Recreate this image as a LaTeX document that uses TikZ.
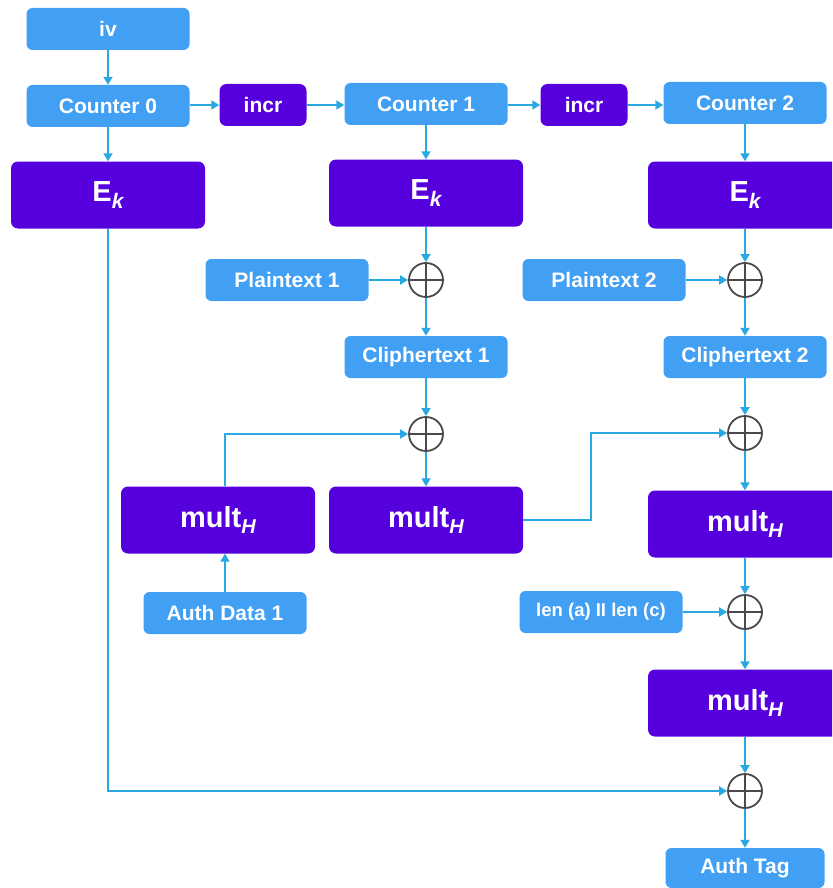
\documentclass[tikz,border=0pt]{standalone}
\usepackage{fontspec}
\setmainfont{Liberation Sans}
\usetikzlibrary{arrows.meta}
\definecolor{lightbox}{HTML}{42A0F4}
\definecolor{darkbox}{HTML}{5500DD}
\definecolor{wire}{HTML}{2AA8E2}
\definecolor{xorline}{HTML}{4A4A4A}
\tikzset{
  x=1pt, y=-1pt,
  lbox/.style={fill=lightbox, rounded corners=6pt, minimum width=163pt, minimum height=42pt,
    inner sep=0pt, text=white, font=\fontsize{21}{23}\selectfont\bfseries},
  pbox/.style={fill=darkbox, rounded corners=7pt, inner sep=0pt, text=white},
  incrbox/.style={pbox, minimum width=87pt, minimum height=42pt, font=\fontsize{21}{23}\selectfont\bfseries},
  bigbox/.style={pbox, minimum width=194pt, minimum height=67pt, font=\fontsize{29}{31}\selectfont\bfseries},
  xor/.style={circle, draw=xorline, line width=1.8pt, minimum size=34pt, inner sep=0pt,
    path picture={\draw[xorline, line width=1.8pt]
      (path picture bounding box.north) -- (path picture bounding box.south)
      (path picture bounding box.west) -- (path picture bounding box.east);}},
  arrow/.style={draw=wire, line width=1.8pt, -{Triangle[length=8pt,width=9pt]}},
}
\newcommand{\Ek}{E\raisebox{-0.22em}{\fontsize{21}{23}\selectfont\itshape k}}
\newcommand{\multH}{mult\raisebox{-0.22em}{\fontsize{20}{23}\selectfont\itshape H}}
\begin{document}
\begin{tikzpicture}
\useasboundingbox (0,0) rectangle (832,888);
\clip (0,0) rectangle (832,888);

% counters and increments
\node[lbox] (iv) at (108,29) {iv};
\node[lbox] (c0) at (108,106) {Counter 0};
\node[incrbox] (i1) at (263,105) {incr};
\node[lbox] (c1) at (426,104) {Counter 1};
\node[incrbox] (i2) at (584,105) {incr};
\node[lbox] (c2) at (745,103) {Counter 2};

% block cipher
\node[bigbox] (e0) at (108,195) {\Ek};
\node[bigbox] (e1) at (426,193) {\Ek};
\node[bigbox] (e2) at (745,195) {\Ek};

% encryption
\node[xor] (x1) at (426,280) {};
\node[xor] (x2) at (745,280) {};
\node[lbox] (p1) at (287,280) {Plaintext 1};
\node[lbox] (p2) at (604,280) {Plaintext 2};
\node[lbox] (k1) at (426,357) {Cliphertext 1};
\node[lbox] (k2) at (745,357) {Cliphertext 2};

% GHASH chain
\node[xor] (x3) at (426,434) {};
\node[xor] (x4) at (745,433) {};
\node[bigbox] (m1) at (218,520) {\multH};
\node[bigbox] (m2) at (426,520) {\multH};
\node[bigbox] (m3) at (745,524) {\multH};
\node[lbox] (ad) at (225,613) {Auth Data 1};
\node[lbox, font=\fontsize{18.5}{20}\selectfont\bfseries] (len) at (601,612) {len (a) II len (c)};
\node[xor] (x5) at (745,612) {};
\node[bigbox] (m4) at (745,703) {\multH};
\node[xor] (x6) at (745,791) {};
\node[lbox, minimum width=159pt, minimum height=40pt] (tag) at (745,868) {Auth Tag};

% connectors
\draw[arrow] (iv) -- (c0);
\draw[arrow] (c0.east |- i1) -- (i1);
\draw[arrow] (i1) -- (i1 -| c1.west);
\draw[arrow] (c1.east |- i2) -- (i2);
\draw[arrow] (i2) -- (i2 -| c2.west);
\draw[arrow] (c0) -- (e0);
\draw[arrow] (c1) -- (e1);
\draw[arrow] (c2) -- (e2);
\draw[arrow] (e1) -- (x1);
\draw[arrow] (e2) -- (x2);
\draw[arrow] (p1) -- (x1);
\draw[arrow] (p2) -- (x2);
\draw[arrow] (x1) -- (k1);
\draw[arrow] (x2) -- (k2);
\draw[arrow] (k1) -- (x3);
\draw[arrow] (k2) -- (x4);
\draw[arrow] (ad.north) -- (ad.north |- m1.south);
\draw[arrow] (m1.north -| ad.north) |- (x3.west);
\draw[arrow] (x3) -- (m2);
\draw[arrow] (m2.east) -- ++(68,0) |- (x4.west);
\draw[arrow] (x4) -- (m3);
\draw[arrow] (m3) -- (x5);
\draw[arrow] (len) -- (x5);
\draw[arrow] (x5) -- (m4);
\draw[arrow] (m4) -- (x6);
\draw[arrow] (e0.south) |- (x6.west);
\draw[arrow] (x6) -- (tag);
\end{tikzpicture}
\end{document}
